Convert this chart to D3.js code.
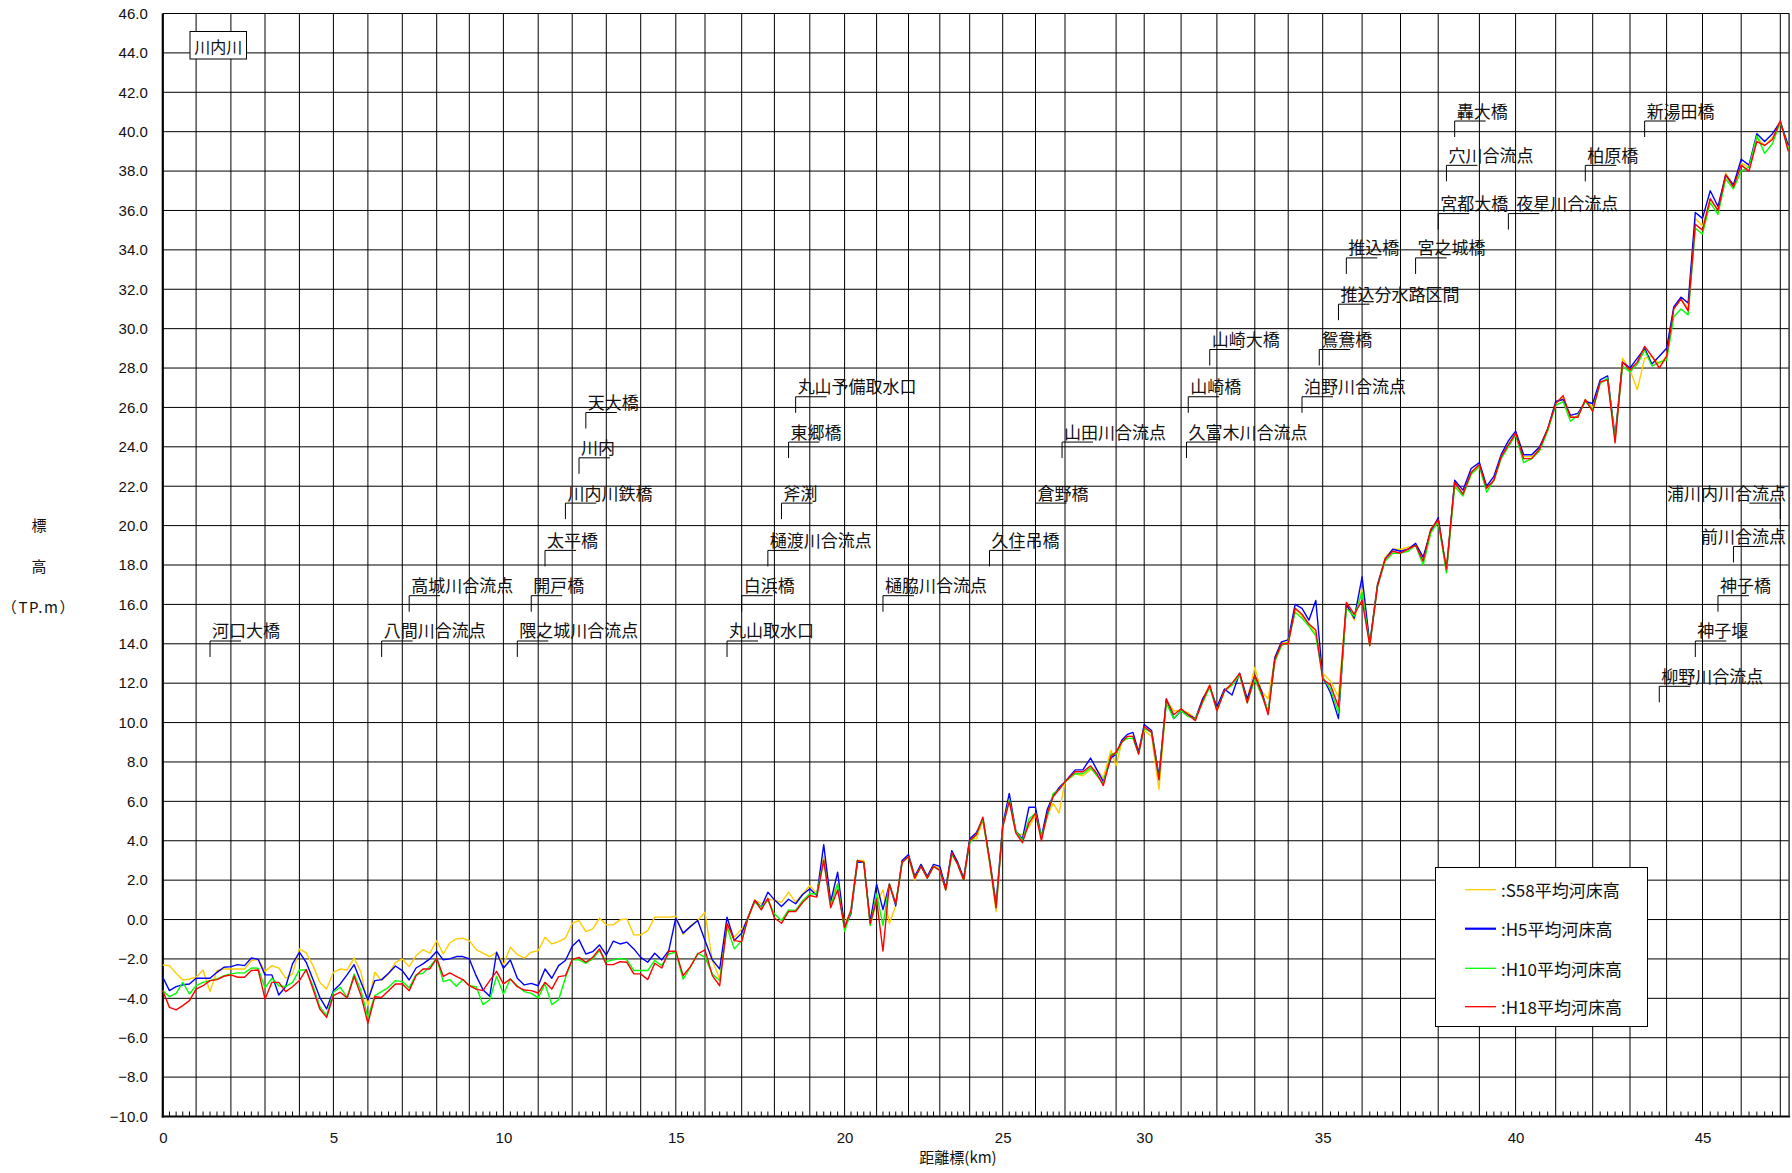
<!DOCTYPE html>
<html><head><meta charset="utf-8">
<script src="https://cdn.jsdelivr.net/npm/d3@7"></script>
<style>body{margin:0;background:#fff}svg{display:block}</style>
</head><body>
<svg id="c" width="1792" height="1173"></svg>
<script>
// ---------------- DATA ----------------
const km = [
0,0.2,0.4,0.6,0.8,1,1.2,1.4,1.6,1.8,2,2.2,2.4,2.6,2.8,3,3.2,3.4,3.6,3.8,
4,4.2,4.4,4.6,4.8,5,5.2,5.4,5.6,5.8,6,6.2,6.4,6.6,6.8,7,7.2,7.4,7.6,7.8,
8,8.2,8.4,8.6,8.8,9,9.2,9.4,9.6,9.8,10,10.2,10.4,10.6,10.8,11,11.2,11.4,11.6,11.8,
12,12.2,12.4,12.6,12.8,13,13.2,13.4,13.6,13.8,14,14.2,14.4,14.6,14.8,15,
15.25,15.5,15.75,16,
16.2,16.4,16.6,16.8,17,17.2,17.4,17.6,17.8,18,18.2,18.4,18.6,18.8,19,19.2,19.4,19.6,19.8,20,
20.2,20.4,20.6,20.8,21,21.2,21.4,21.6,21.8,22,22.2,22.4,22.6,22.8,23,23.2,23.4,23.6,23.8,24,
24.2,24.4,24.6,24.8,25,25.2,25.4,25.6,25.8,26,26.2,26.4,26.6,26.8,27,
27.4,27.7,28,28.25,28.5,28.8,29,
29.2,29.4,29.6,29.8,30,30.2,30.4,30.6,30.8,31,31.2,31.4,31.6,31.8,32,32.2,32.4,32.6,32.8,33,
33.2,33.4,33.6,33.8,34,34.2,34.4,34.6,34.8,35,35.2,35.4,35.6,35.8,36,36.2,36.4,36.6,36.8,37,
37.2,37.4,37.6,37.8,38,38.2,38.4,38.6,38.8,39,39.2,39.4,39.6,39.8,40,40.2,40.4,40.6,40.8,41,
41.2,41.4,41.6,41.8,42,42.2,42.4,42.6,42.8,43,43.2,43.4,43.6,43.8,44,44.2,44.4,44.6,44.8,45,
45.2,45.4,45.6,45.8,46,46.2,46.4,46.6,46.8,47,47.2
];

const s58 = [
-2.31,-2.34,-2.73,-3.07,-3.02,-2.93,-2.56,-3.66,-2.59,-2.51,-2.51,-2.51,-2.51,-2.08,-2.03,-2.63,-2.34,-2.46,-2.98,-2.76,
-1.49,-1.69,-2.34,-3.19,-3.53,-2.68,-2.51,-2.56,-1.95,-2.68,-4.37,-2.68,-3.10,-2.76,-2.17,-2.00,-2.39,-1.83,-1.53,-1.71,
-1.07,-1.75,-1.19,-0.98,-0.95,-1.07,-1.53,-1.71,-1.88,-1.66,-2.29,-1.41,-1.78,-1.95,-1.66,-1.58,-0.90,-1.24,-1.12,-0.95,
-0.19,-0.05,-0.61,-0.47,0.07,-0.27,-0.27,-0.02,0.03,-0.78,-0.78,-0.56,0.12,0.12,0.12,0.17,
-0.76,-0.31,-0.05,0.37,
-2.08,-3.02,-0.31,-0.90,-0.47,0.03,1.00,0.80,1.05,0.97,0.88,1.39,0.88,1.31,1.73,1.31,3.2,1.0,1.8,-0.2,
0.4,3.0,3.0,-0.3,0.9,1.5,-0.2,0.7,2.9,3.2,2.0,2.8,2.1,2.7,2.6,1.6,3.4,2.9,2.1,4.1,
4.1,5.0,2.9,0.4,4.8,6.1,4.4,4.3,4.7,5.3,4.2,5.3,5.9,5.4,7.0,
7.4,7.3,7.6,7.6,7.2,8.6,7.8,
9.0,9.3,9.3,8.6,9.6,9.3,6.6,11.1,10.6,10.6,10.5,10.2,11.2,11.9,10.7,11.7,11.9,12.5,11.2,12.8,
11.6,11.2,13.3,14.1,14.0,15.8,15.4,15.0,14.5,12.5,12.1,11.3,16.0,15.2,16.8,14.1,17.0,18.4,18.8,18.8,
18.9,19.0,18.3,19.8,20.3,17.8,22.2,21.6,22.7,23.1,21.9,22.3,23.4,24.1,24.6,23.5,23.5,24.0,24.9,26.2,
26.5,25.5,25.5,26.4,26.0,27.3,27.4,24.5,28.5,27.9,26.9,28.5,28.6,28.2,28.6,31.0,31.5,31.0,35.6,35.2,
36.6,36.0,37.9,37.3,38.4,38.2,39.7,39.3,39.7,40.5,39.2
];

const h5 = [
-2.93,-3.61,-3.41,-3.31,-3.27,-2.98,-2.98,-2.98,-2.68,-2.42,-2.39,-2.29,-2.34,-1.95,-2.02,-2.81,-2.81,-3.83,-3.41,-2.25,
-1.66,-2.17,-3.05,-3.95,-4.54,-3.61,-3.27,-2.80,-2.29,-3.19,-4.08,-3.10,-3.05,-2.73,-2.36,-2.59,-3.07,-2.46,-2.25,-2.00,
-1.61,-2.05,-2.00,-1.88,-1.88,-2.00,-2.85,-3.56,-3.90,-1.66,-2.47,-2.05,-2.98,-3.32,-3.24,-3.36,-2.51,-2.98,-2.34,-2.08,
-1.36,-1.03,-1.75,-1.63,-1.29,-1.80,-1.10,-1.24,-1.15,-1.49,-1.92,-2.17,-1.71,-2.05,-1.58,0.08,
-0.69,-0.36,-0.05,-1.07,
-2.05,-2.51,0.12,-1.07,-0.69,0.15,0.97,0.63,1.39,1.00,0.66,1.03,0.80,1.27,1.56,1.22,3.8,0.9,2.4,-0.4,
0.3,2.9,2.9,-0.1,1.8,0.5,1.8,0.7,3.0,3.3,2.2,2.8,2.2,2.8,2.7,1.6,3.5,2.9,2.1,4.1,
4.4,5.1,3.1,0.8,4.8,6.4,4.5,4.1,5.7,5.7,4.2,5.6,6.3,6.7,7.0,
7.6,7.6,8.2,7.6,7.0,8.2,8.4,
9.1,9.4,9.5,8.5,9.9,9.6,7.3,11.2,10.2,10.6,10.4,10.2,11.2,11.8,10.8,11.7,11.4,12.5,11.2,12.4,
11.6,10.5,13.3,14.1,14.2,16.0,15.8,15.2,16.2,12.3,11.5,10.2,16.0,15.3,17.4,14.0,17.0,18.3,18.8,18.7,
18.8,19.1,18.4,19.7,20.4,17.7,22.3,21.8,22.9,23.2,22.0,22.5,23.6,24.3,24.8,23.6,23.6,24.0,24.9,26.3,
26.4,25.6,25.7,26.3,26.2,27.4,27.6,24.5,28.3,28.0,28.5,29.0,28.2,28.6,29.0,31.1,31.6,31.3,35.9,35.6,
37.0,36.2,37.8,37.3,38.6,38.3,39.9,39.5,39.9,40.5,39.3
];

const h10 = [
-3.61,-3.92,-3.75,-3.19,-3.78,-3.36,-3.19,-3.10,-3.02,-2.85,-2.76,-2.71,-2.71,-2.46,-2.47,-3.47,-2.98,-3.36,-3.41,-3.19,
-2.56,-2.56,-3.36,-4.42,-4.88,-3.69,-3.44,-3.95,-2.76,-3.61,-4.97,-3.86,-3.66,-3.44,-3.10,-3.15,-3.47,-2.80,-2.73,-2.39,
-1.97,-3.15,-3.05,-3.39,-3.05,-3.36,-3.41,-4.32,-4.07,-2.88,-3.78,-3.02,-3.36,-3.66,-3.75,-3.98,-3.27,-4.32,-4.07,-2.97,
-2.03,-2.05,-2.22,-2.00,-1.58,-2.14,-2.05,-1.97,-2.05,-2.59,-2.59,-2.59,-2.08,-2.34,-1.75,-1.66,
-3.02,-2.42,-1.71,-1.92,
-2.76,-3.10,-0.39,-1.49,-1.07,0.15,0.88,0.63,0.97,0.29,-0.05,0.49,0.46,0.97,1.31,1.31,3.0,0.7,1.8,-0.6,
0.4,3.0,2.9,-0.3,1.3,-0.3,1.8,0.8,2.9,3.2,2.1,2.7,2.1,2.7,2.5,1.5,3.3,2.8,2.0,3.9,
4.3,5.1,3.0,0.6,4.7,6.1,4.5,4.0,5.1,5.4,4.2,5.2,6.4,6.6,7.0,
7.4,7.4,7.7,7.3,6.9,8.4,8.4,
9.0,9.2,9.2,8.4,9.7,9.5,7.1,11.0,10.2,10.6,10.3,10.2,11.0,11.8,10.6,11.6,11.9,12.4,11.0,12.2,
11.4,10.6,13.1,13.9,14.1,15.6,15.3,14.9,14.4,12.3,11.7,10.5,15.8,15.4,16.6,13.9,16.9,18.2,18.6,18.6,
18.7,19.0,18.0,19.6,20.2,17.6,22.0,21.5,22.6,23.0,21.7,22.3,23.4,24.0,24.6,23.2,23.4,23.8,24.8,26.1,
26.3,25.3,25.6,26.3,25.9,27.2,27.5,24.4,28.1,27.8,28.2,28.9,28.1,28.3,28.4,30.6,31.0,30.7,35.1,34.8,
36.4,35.8,37.6,37.1,38.0,38.2,39.8,38.9,39.4,40.5,39.1
];

const h18 = [
-3.61,-4.46,-4.59,-4.37,-4.12,-3.53,-3.36,-3.10,-3.05,-2.88,-2.81,-2.93,-2.93,-2.59,-2.56,-4.03,-3.19,-3.19,-3.66,-3.41,
-3.10,-2.54,-3.53,-4.54,-4.97,-3.86,-3.69,-3.98,-2.88,-3.86,-5.27,-3.92,-3.95,-3.61,-3.27,-3.27,-3.61,-2.85,-2.51,-2.51,
-1.97,-2.88,-2.71,-2.88,-3.05,-3.36,-3.53,-3.61,-3.10,-2.63,-3.27,-3.02,-3.41,-3.58,-3.61,-3.73,-3.19,-3.53,-2.90,-2.85,
-2.03,-1.92,-2.17,-1.92,-1.49,-2.29,-2.29,-2.14,-2.17,-2.76,-2.76,-3.05,-2.22,-2.46,-1.61,-1.61,
-2.85,-2.39,-1.75,-1.54,
-2.85,-3.36,-0.19,-1.07,-1.12,0.12,0.97,0.49,1.08,0.08,-0.19,0.41,0.41,0.88,1.22,1.14,3.0,0.6,1.5,-0.4,
0.5,3.0,2.9,-0.2,1.0,-1.6,1.8,0.8,2.9,3.2,2.1,2.7,2.1,2.7,2.5,1.5,3.4,2.8,2.0,4.0,
4.3,5.2,3.0,0.6,4.7,6.0,4.4,3.9,4.9,5.4,4.0,5.4,6.25,6.6,7.0,
7.5,7.5,7.8,7.4,6.8,8.3,8.5,
9.0,9.3,9.3,8.4,9.8,9.5,7.1,11.2,10.4,10.7,10.4,10.1,11.1,11.9,10.6,11.6,12.0,12.5,11.0,12.4,
11.5,10.4,13.2,14.0,14.0,15.8,15.5,15.0,14.7,12.2,11.9,10.8,16.1,15.5,16.2,13.9,16.9,18.3,18.7,18.6,
18.8,19.0,18.2,19.8,20.3,17.8,22.2,21.6,22.7,23.1,21.9,22.3,23.5,24.1,24.7,23.4,23.4,23.9,24.9,26.2,
26.6,25.5,25.5,26.4,25.8,27.3,27.4,24.2,28.3,27.9,28.3,29.1,28.6,28.0,28.6,31.0,31.5,30.9,35.3,35.0,
36.6,36.0,37.8,37.2,38.3,38.0,39.5,39.3,39.6,40.55,39.0
];

const seriesNames = [":S58平均河床高", ":H5平均河床高", ":H10平均河床高", ":H18平均河床高"];
const yTickValues = [-10,-8,-6,-4,-2,0,2,4,6,8,10,12,14,16,18,20,22,24,26,28,30,32,34,36,38,40,42,44,46];
const xTickValues = [0,5,10,15,20,25,30,35,40,45];
// km markers that have a grid line (km 28 has none in the original)
const gridKm = [0,1,2,3,4,5,6,7,8,9,10,11,12,13,14,15,16,17,18,19,20,21,22,23,24,25,26,27,29,30,31,32,33,34,35,36,37,38,39,40,41,42,43,44,45,46,47];

// landmark labels: [name, km, elevation of label row]
const landmarks = [
["河口大橋",1.4,14.7],["八間川合流点",6.4,14.7],["高城川合流点",7.2,17.0],["隈之城川合流点",10.4,14.7],
["開戸橋",10.8,17.0],["太平橋",11.2,19.3],["川内川鉄橋",11.8,21.7],["川内",12.2,24.0],["天大橋",12.4,26.3],
["丸山取水口",16.6,14.7],["白浜橋",17.0,17.0],["樋渡川合流点",17.8,19.3],["斧渕",18.2,21.7],["東郷橋",18.4,24.8],
["丸山予備取水口",18.6,27.1],["樋脇川合流点",21.2,17.0],["久住吊橋",24.6,19.3],["倉野橋",26.0,21.7],
["山田川合流点",26.9,24.8],["久富木川合流点",31.15,24.8],["山崎橋",31.2,27.1],["山崎大橋",31.8,29.5],
["泊野川合流点",34.4,27.1],["鴛鴦橋",34.9,29.5],["推込分水路区間",35.4,31.8],["推込橋",35.6,34.15],
["宮之城橋",37.4,34.15],["宮都大橋",38.0,36.4],["夜星川合流点",39.8,36.4],["穴川合流点",38.2,38.85],
["轟大橋",38.4,41.1],["柏原橋",41.8,38.85],["新湯田橋",43.4,41.1],["浦川内川合流点",47.0,21.7],
["前川合流点",45.8,19.5],["神子橋",45.4,17.0],["神子堰",44.8,14.7],["柳野川合流点",43.8,12.4]
];

// ---------------- LAYOUT ----------------
const svg = d3.select("#c");
const L = 162.8, R = 1789.1, T = 13.5, B = 1116.5;
// distance-marker axis: grid markers are not evenly spaced in the original
const xBreakKm = gridKm.concat([47.22]);
const xBreakPx = [162.8,196.1,230.9,265.0,299.4,333.4,367.9,402.3,436.7,469.3,503.4,538.2,572.2,606.3,640.7,675.8,
705.0,741.7,774.4,809.8,844.6,876.6,908.5,939.8,969.7,1002.7,1035.5,1065.0,1116.1,1144.2,1181.1,1216.9,1254.8,
1288.2,1322.7,1362.1,1400.5,1438.2,1479.4,1515.6,1555.7,1592.7,1630.0,1666.6,1702.5,1741.2,1780.3,1789.1];
const x = d3.scaleLinear().domain(xBreakKm).range(xBreakPx);
const y = d3.scaleLinear().domain([-10,46]).range([B,T]);

svg.append("rect").attr("width",1792).attr("height",1173).attr("fill","#fff");

const grid = svg.append("g");
grid.selectAll("line.h").data(yTickValues).join("line")
  .attr("x1",L).attr("x2",R).attr("y1",d=>y(d)).attr("y2",d=>y(d))
  .attr("stroke","#000").attr("stroke-width",1);
grid.selectAll("line.v").data(gridKm.slice(1)).join("line")
  .attr("x1",d=>x(d)).attr("x2",d=>x(d)).attr("y1",T).attr("y2",B)
  .attr("stroke","#000").attr("stroke-width",1);

// minor ticks (each 200 m) along the bottom axis
const minor = [];
for (let i=0;i<gridKm.length;i++){
  const a = gridKm[i], b = (i+1<gridKm.length)? gridKm[i+1] : 47.22;
  const n = Math.round((b-a)*5);
  for (let j=1;j<n;j++) minor.push(a+(b-a)*j/n);
}
grid.selectAll("line.m").data(minor).join("line")
  .attr("x1",d=>x(d)).attr("x2",d=>x(d)).attr("y1",B-5).attr("y2",B)
  .attr("stroke","#000").attr("stroke-width",1);

// frame
svg.append("line").attr("x1",L).attr("x2",L).attr("y1",T).attr("y2",B+1).attr("stroke","#000").attr("stroke-width",2.2);
svg.append("line").attr("x1",L-1).attr("x2",R+1).attr("y1",B).attr("y2",B).attr("stroke","#000").attr("stroke-width",2.2);
svg.append("line").attr("x1",R).attr("x2",R).attr("y1",T).attr("y2",B).attr("stroke","#444").attr("stroke-width",1.6);
svg.append("line").attr("x1",L).attr("x2",R).attr("y1",T).attr("y2",T).attr("stroke","#000").attr("stroke-width",1.2);

// axes labels
const numFont = "'Liberation Sans', Arial, sans-serif";
const yAxis = svg.append("g").attr("transform",`translate(${L},0)`)
  .call(d3.axisLeft(y).tickValues(yTickValues).tickFormat(d3.format(".1f")).tickSize(0).tickPadding(15));
yAxis.select(".domain").remove();
yAxis.selectAll("text").attr("font-family",numFont).attr("font-size",15).attr("fill","#111");

const xAxis = svg.append("g").attr("transform",`translate(0,${B})`)
  .call(d3.axisBottom(x).tickValues(xTickValues).tickFormat(d3.format("d")).tickSize(0).tickPadding(16));
xAxis.select(".domain").remove();
xAxis.selectAll("text").attr("font-family",numFont).attr("font-size",15).attr("fill","#111");

const jp = "'Noto Sans CJK JP','Noto Sans',sans-serif";
svg.append("text").attr("x",958).attr("y",1163).attr("text-anchor","middle")
  .attr("font-family",jp).attr("font-size",15).attr("fill","#111").text("距離標(km)");
[["標",524.6],["高",565.7],["（TP.m）",606.9]].forEach(([t,yy],i)=>{
  const tt = svg.append("text").attr("x",39).attr("y",yy).attr("text-anchor","middle").attr("dominant-baseline","central")
    .attr("font-family",jp).attr("font-size",15).attr("fill","#111").text(t);
  if (i===2) tt.attr("letter-spacing","1.6px");
});

// river name box
svg.append("rect").attr("x",190).attr("y",31.5).attr("width",56.5).attr("height",27.5)
  .attr("fill","#fff").attr("stroke","#000").attr("stroke-width",1);
svg.append("text").attr("x",218.3).attr("y",45.5).attr("text-anchor","middle").attr("dominant-baseline","central")
  .attr("font-family",jp).attr("font-size",16).attr("fill","#111").text("川内川");

// landmarks (text kept from colliding with a neighbour on the same row)
const lm = svg.append("g");
const rowEnds = {};
landmarks.forEach(([name,k,lev])=>{
  const bx = x(k), yc = y(lev), ly = yc+11;
  const goLeft = bx+31 > R-2;
  lm.append("line").attr("x1",goLeft?bx-31:bx).attr("x2",goLeft?bx:bx+31).attr("y1",ly).attr("y2",ly)
    .attr("stroke","#000").attr("stroke-width",1);
  lm.append("line").attr("x1",bx).attr("x2",bx).attr("y1",ly).attr("y2",ly+16)
    .attr("stroke","#000").attr("stroke-width",1);
  let tx = bx+2;
  const key = lev.toFixed(2);
  if (rowEnds[key]!==undefined && tx < rowEnds[key]+8) tx = rowEnds[key]+8;
  const t = lm.append("text").attr("x",tx).attr("y",yc).attr("dominant-baseline","central")
    .attr("font-family",jp).attr("font-size",17).attr("fill","#111").text(name);
  const w = t.node().getComputedTextLength();
  if (tx+w > R-3) { t.attr("x",R-3).attr("text-anchor","end"); rowEnds[key] = R-3; }
  else rowEnds[key] = Math.max(rowEnds[key]||0, tx+w);
});

// series lines
const colors = ["#ffcc00","#0000ff","#00ff00","#ff0000"];
const series = [s58,h5,h10,h18];
const line = d3.line().x((d,i)=>x(km[i])).y(d=>y(d)).defined(d=>d!=null);
const lg = svg.append("g");
series.forEach((s,si)=>{
  if (s.length!==km.length) console.error("length mismatch", si, s.length, km.length);
  lg.append("path").datum(s).attr("d",line).attr("fill","none")
    .attr("stroke",colors[si]).attr("stroke-width",1.4).attr("stroke-linejoin","round");
});

// legend
const leg = svg.append("g");
leg.append("rect").attr("x",1435.5).attr("y",867.5).attr("width",212).attr("height",159)
  .attr("fill","#fff").attr("stroke","#000").attr("stroke-width",1);
const legY = [889.7,928.7,968.3,1006.7];
seriesNames.forEach((n,i)=>{
  leg.append("line").attr("x1",1465).attr("x2",1496).attr("y1",legY[i]).attr("y2",legY[i])
    .attr("stroke",colors[i]).attr("stroke-width",i===1?2.2:1.3);
  leg.append("text").attr("x",1501).attr("y",legY[i]).attr("dominant-baseline","central")
    .attr("font-family",jp).attr("font-size",17).attr("fill","#111").text(n);
});
</script>
</body></html>
